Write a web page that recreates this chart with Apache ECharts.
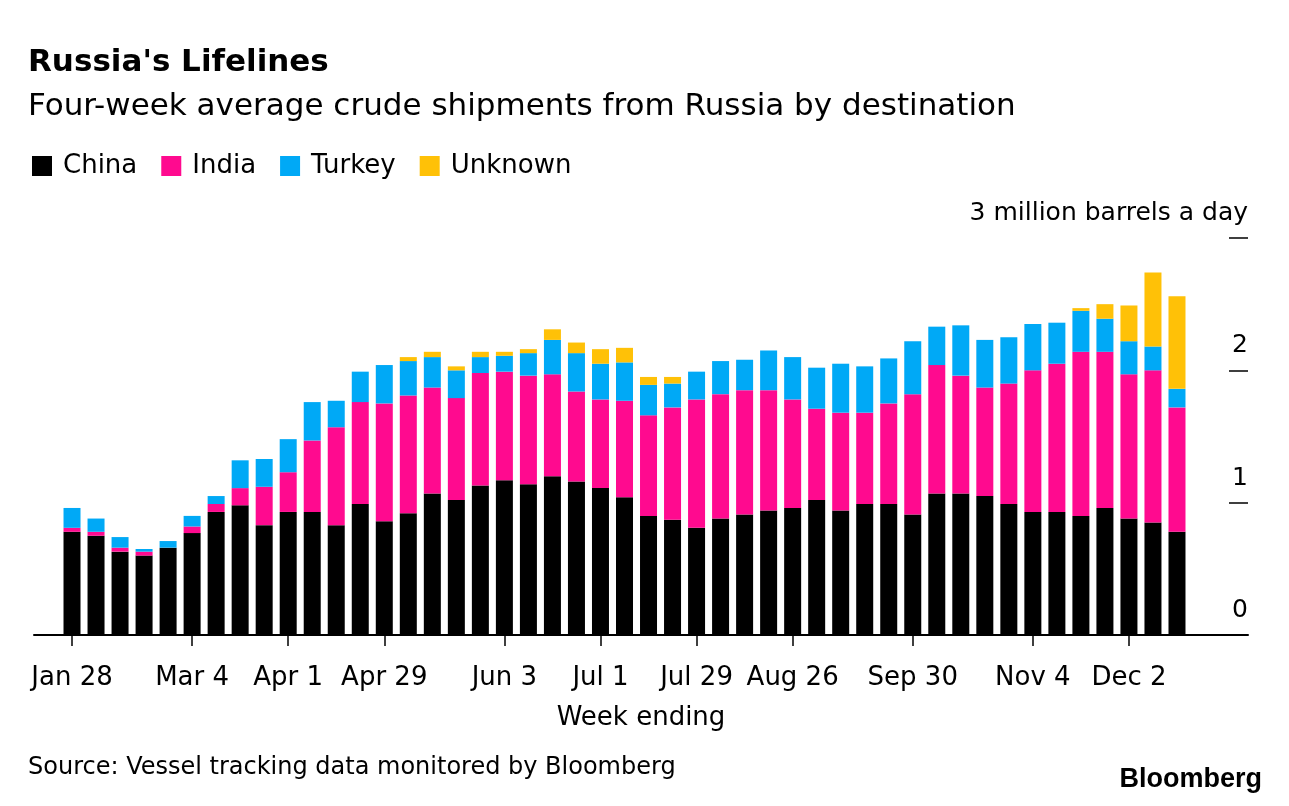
<!DOCTYPE html>
<html>
<head>
<meta charset="utf-8">
<script src="https://cdn.jsdelivr.net/npm/echarts@6/dist/echarts.min.js"></script>
<style>
html,body{margin:0;padding:0;background:#fff;}
#chart{width:1289px;height:806px;}
</style>
</head>
<body>
<div id="chart"></div>
<script>
// Week ending (Fridays, 2022)
const weeks = ['Jan 28','Feb 4','Feb 11','Feb 18','Feb 25','Mar 4','Mar 11','Mar 18','Mar 25',
  'Apr 1','Apr 8','Apr 15','Apr 22','Apr 29','May 6','May 13','May 20','May 27',
  'Jun 3','Jun 10','Jun 17','Jun 24','Jul 1','Jul 8','Jul 15','Jul 22','Jul 29',
  'Aug 5','Aug 12','Aug 19','Aug 26','Sep 2','Sep 9','Sep 16','Sep 23','Sep 30',
  'Oct 7','Oct 14','Oct 21','Oct 28','Nov 4','Nov 11','Nov 18','Nov 25','Dec 2','Dec 9','Dec 16'];
const tickLabels = ['Jan 28','Mar 4','Apr 1','Apr 29','Jun 3','Jul 1','Jul 29','Aug 26','Sep 30','Nov 4','Dec 2'];

// million barrels a day
const china = [0.78,0.75,0.63,0.60,0.66,0.77,0.93,0.98,0.83,0.93,0.93,0.83,0.99,0.86,0.92,1.07,1.02,1.13,1.17,1.14,1.20,1.16,1.11,1.04,0.90,0.87,0.81,0.88,0.91,0.94,0.96,1.02,0.94,0.99,0.99,0.91,1.07,1.07,1.05,0.99,0.93,0.93,0.90,0.96,0.88,0.85,0.78];
const india = [0.03,0.03,0.03,0.03,0.00,0.05,0.06,0.13,0.29,0.30,0.54,0.74,0.77,0.89,0.89,0.80,0.77,0.85,0.82,0.82,0.77,0.68,0.67,0.73,0.76,0.85,0.97,0.94,0.94,0.91,0.82,0.69,0.74,0.69,0.76,0.91,0.97,0.89,0.82,0.91,1.07,1.12,1.24,1.18,1.09,1.15,0.94];
const turkey = [0.15,0.10,0.08,0.02,0.05,0.08,0.06,0.21,0.21,0.25,0.29,0.20,0.23,0.29,0.26,0.23,0.21,0.12,0.12,0.17,0.26,0.29,0.27,0.29,0.23,0.18,0.21,0.25,0.23,0.30,0.32,0.31,0.37,0.35,0.34,0.40,0.29,0.38,0.36,0.35,0.35,0.31,0.31,0.25,0.25,0.18,0.14];
const unknown = [0,0,0,0,0,0,0,0,0,0,0,0,0,0,0.03,0.04,0.03,0.04,0.03,0.03,0.08,0.08,0.11,0.11,0.06,0.05,0,0,0,0,0,0,0,0,0,0,0,0,0,0,0,0,0.02,0.11,0.27,0.56,0.70];

const seriesNames = ['China','India','Turkey','Unknown'];
const seriesColors = ['#000000','#ff0a8f','#00a9f6','#ffc107'];
const seriesData = [china, india, turkey, unknown];

const FONT = 'DejaVu Sans';
const showTick = (idx) => tickLabels.indexOf(weeks[idx]) >= 0;

const chart = echarts.init(document.getElementById('chart'), null, {renderer:'canvas'});
chart.setOption({
  animation: false,
  backgroundColor: '#fff',
  title: [
    {text: "Russia's Lifelines", left: 28, top: 47, padding: 0,
     textStyle: {fontFamily: FONT, fontWeight: 'bold', fontSize: 31, color: '#000'}},
    {text: 'Four-week average crude shipments from Russia by destination', left: 28, top: 91, padding: 0,
     textStyle: {fontFamily: FONT, fontWeight: 'normal', fontSize: 31, color: '#000'}},
    {text: 'Source: Vessel tracking data monitored by Bloomberg', left: 28, top: 756, padding: 0,
     textStyle: {fontFamily: FONT, fontWeight: 'normal', fontSize: 24, color: '#000'}},
    {text: 'Bloomberg', right: 27, top: 766, padding: 0,
     textStyle: {fontFamily: 'Liberation Sans', fontWeight: 'bold', fontSize: 27, color: '#000'}}
  ],
  legend: {
    left: 32, top: 153, padding: 0,
    itemWidth: 20, itemHeight: 20, itemGap: 24,
    icon: 'rect',
    data: seriesNames,
    textStyle: {fontFamily: FONT, fontSize: 26, color: '#000', padding: [0,0,0,6]}
  },
  grid: [
    {left: 34, right: 41, top: 238, bottom: 171, containLabel: false},
    {left: 60, right: 100, top: 238, bottom: 171, containLabel: false}
  ],
  xAxis: [
    {
      gridIndex: 0, type: 'value', min: 0, max: 1,
      name: 'Week ending', nameLocation: 'middle', nameGap: 70,
      nameTextStyle: {fontFamily: FONT, fontSize: 26, color: '#000'},
      axisLine: {show: true, onZero: false, lineStyle: {color: '#000', width: 2}},
      axisTick: {show: false}, axisLabel: {show: false}, splitLine: {show: false}
    },
    {
      gridIndex: 1, type: 'category', data: weeks, boundaryGap: true,
      axisLine: {show: false},
      axisTick: {show: true, alignWithLabel: true, interval: showTick, length: 11,
        lineStyle: {color: '#000', width: 1.5}},
      axisLabel: {show: true, interval: showTick, margin: 30,
        fontFamily: FONT, fontSize: 26, color: '#000'},
      splitLine: {show: false}
    }
  ],
  yAxis: [
    {
      gridIndex: 0, type: 'value', position: 'right', min: 0, max: 3, interval: 1,
      axisLine: {show: false, onZero: false},
      axisTick: {show: true, inside: true, length: 19, lineStyle: {color: '#000', width: 1.5}},
      axisLabel: {inside: true, margin: 0, fontFamily: FONT, fontSize: 25, color: '#000',
        verticalAlign: 'bottom', padding: [0,0,12,0],
        formatter: v => v === 3 ? '3 million barrels a day' : String(v)},
      splitLine: {show: false}
    },
    {
      gridIndex: 1, type: 'value', min: 0, max: 3, interval: 1, show: false,
      splitLine: {show: false}
    }
  ],
  series: seriesNames.map((name, k) => ({
    name, type: 'bar', stack: 'total', barWidth: 17,
    xAxisIndex: 1, yAxisIndex: 1,
    itemStyle: {color: seriesColors[k]},
    data: seriesData[k]
  }))
});
</script>
</body>
</html>
